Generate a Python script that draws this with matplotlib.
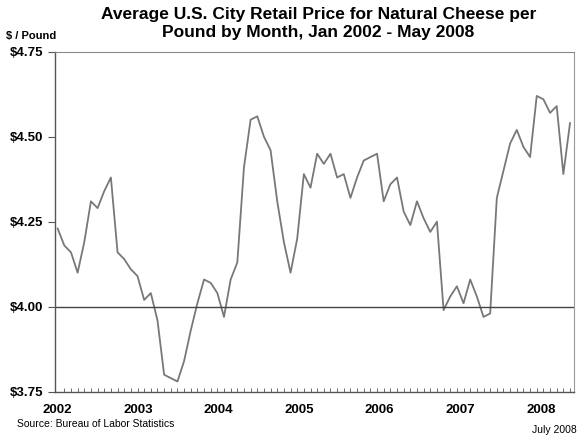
"""
Average U.S. city retail price for natural cheese, monthly
"""

import matplotlib
matplotlib.use('Agg')
import matplotlib.pyplot as plt
import numpy as np

# Data, one value per month starting Jan 2002
years = ['2002', '2003', '2004', '2005', '2006', '2007', '2008']
price = [4.23, 4.18, 4.16, 4.10, 4.19, 4.31, 4.29, 4.34, 4.38, 4.16, 4.14, 4.11,
         4.09, 4.02, 4.04, 3.96, 3.80, 3.79, 3.78, 3.84, 3.93, 4.01, 4.08, 4.07,
         4.04, 3.97, 4.08, 4.13, 4.41, 4.55, 4.56, 4.50, 4.46, 4.31, 4.19, 4.10,
         4.20, 4.39, 4.35, 4.45, 4.42, 4.45, 4.38, 4.39, 4.32, 4.38, 4.43, 4.44,
         4.45, 4.31, 4.36, 4.38, 4.28, 4.24, 4.31, 4.26, 4.22, 4.25, 3.99, 4.03,
         4.06, 4.01, 4.08, 4.03, 3.97, 3.98, 4.32, 4.40, 4.48, 4.52, 4.47, 4.44,
         4.62, 4.61, 4.57, 4.59, 4.39, 4.54]
y_ticks = [3.75, 4.00, 4.25, 4.50, 4.75]
y_labels = ['$3.75', '$4.00', '$4.25', '$4.50', '$4.75']

plt.rcParams['font.family'] = ['Liberation Sans', 'DejaVu Sans']

W, H = 579, 436
fig = plt.figure(figsize=(W / 100, H / 100), dpi=100)
ax = fig.add_axes([55 / W, 1 - 391.7 / H, (574 - 55) / W, (391.7 - 51.7) / H])

months = np.arange(len(price))
ax.plot(months, price, color='#787878', linewidth=1.3)
ax.axhline(4.0, color='#444444', linewidth=1)

ax.set_xlim(-0.4, len(price) - 0.4)
ax.set_ylim(3.75, 4.75)

# y axis
ax.set_yticks(y_ticks)
ax.set_yticklabels(y_labels, fontsize=9.5, fontweight='bold')
ax.tick_params(axis='y', direction='out', length=5, width=0.8, color='#555555', pad=3.5)

# x axis: year labels, monthly minor ticks
ax.set_xticks([12.1 * i for i in range(len(years))])
ax.set_xticklabels(years, fontsize=9.5, fontweight='bold')
ax.set_xticks(months, minor=True)
ax.tick_params(axis='x', which='major', length=0, pad=9)
ax.tick_params(axis='x', which='minor', direction='in', length=3, width=0.6, color='#555555')

for side in ['left', 'bottom']:
    ax.spines[side].set_color('#555555')
    ax.spines[side].set_linewidth(1)
ax.spines['top'].set_color('#888888')
ax.spines['top'].set_linestyle((0, (4, 1)))
ax.spines['right'].set_color('#999999')
ax.spines['right'].set_linestyle((0, (1, 1)))

fig.text(0.55, 1 - 14 / H, 'Average U.S. City Retail Price for Natural Cheese per',
         ha='center', va='center', fontsize=12.5, fontweight='bold')
fig.text(0.55, 1 - 33 / H, 'Pound by Month, Jan 2002 - May 2008',
         ha='center', va='center', fontsize=12.5, fontweight='bold')
fig.text(6 / W, 1 - 36 / H, '$ / Pound', ha='left', va='center',
         fontsize=8, fontweight='bold')
fig.text(17 / W, 1 - 424 / H, 'Source: Bureau of Labor Statistics', ha='left',
         va='center', fontsize=7.5)
fig.text(577 / W, 1 - 430 / H, 'July 2008', ha='right', va='center', fontsize=7.5)

fig.savefig('out.png', dpi=100)
